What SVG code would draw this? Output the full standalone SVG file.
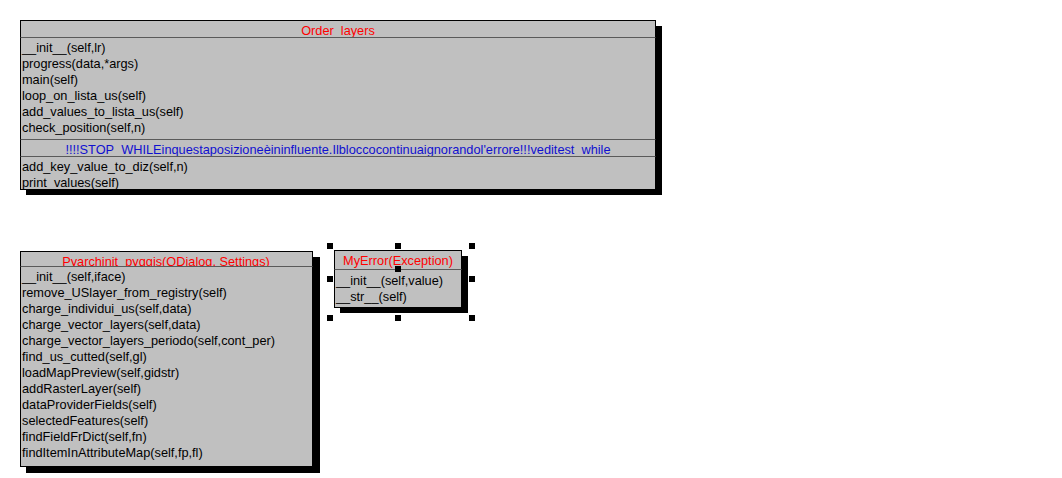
<svg xmlns="http://www.w3.org/2000/svg" width="1062" height="478" viewBox="0 0 1062 478">
<style>
.sh{fill:#000}
.box{fill:#c0c0c0;stroke:#000;stroke-width:1}
.sep{stroke:#5a5a5a;stroke-width:1.2}
.t{font-family:"Liberation Sans",Arial,sans-serif;font-size:12.75px;fill:#000}
.title{font-family:"Liberation Sans",Arial,sans-serif;font-size:12.75px;fill:#ff0000;text-anchor:middle}
.note{font-family:"Liberation Sans",Arial,sans-serif;font-size:12.75px;fill:#1010d0;text-anchor:middle}
.h{fill:#000}
</style>
<defs>
<clipPath id="c1"><rect x="20" y="20" width="635" height="17"/></clipPath>
<clipPath id="c1b"><rect x="20" y="140" width="635" height="16"/></clipPath>
<clipPath id="c2"><rect x="20" y="251" width="293" height="15"/></clipPath>
<clipPath id="c3"><rect x="334" y="250" width="128" height="19"/></clipPath>
</defs>
<g id="connectors"></g>
<g id="Order_layers">
<rect class="sh" x="26" y="26" width="636" height="169"/>
<rect class="box" x="20.5" y="20.5" width="635" height="169"/>
<text class="title" x="338" y="35" clip-path="url(#c1)">Order_layers</text>
<line class="sep" x1="20.5" y1="37.5" x2="655.5" y2="37.5"/>
<text class="t" x="22" y="51.5">__init__(self,lr)</text>
<text class="t" x="22" y="67.5">progress(data,*args)</text>
<text class="t" x="22" y="83.5">main(self)</text>
<text class="t" x="22" y="99.5">loop_on_lista_us(self)</text>
<text class="t" x="22" y="115.5">add_values_to_lista_us(self)</text>
<text class="t" x="22" y="131.5">check_position(self,n)</text>
<line class="sep" x1="20.5" y1="139.5" x2="655.5" y2="139.5"/>
<text class="note" x="338" y="153.5" clip-path="url(#c1b)">!!!!STOP_WHILEinquestaposizioneèininfluente.Ilbloccocontinuaignorandol'errore!!!veditest_while</text>
<line class="sep" x1="20.5" y1="156.5" x2="655.5" y2="156.5"/>
<text class="t" x="22" y="170.5">add_key_value_to_diz(self,n)</text>
<text class="t" x="22" y="186.5">print_values(self)</text>
</g>
<g id="Pyarchinit_pyqgis">
<rect class="sh" x="26" y="257" width="294" height="216"/>
<rect class="box" x="20.5" y="251.5" width="292" height="215"/>
<text class="title" x="166" y="266" clip-path="url(#c2)">Pyarchinit_pyqgis(QDialog, Settings)</text>
<line class="sep" x1="20.5" y1="266.5" x2="312.5" y2="266.5"/>
<text class="t" x="22" y="280.5">__init__(self,iface)</text>
<text class="t" x="22" y="296.5">remove_USlayer_from_registry(self)</text>
<text class="t" x="22" y="312.5">charge_individui_us(self,data)</text>
<text class="t" x="22" y="328.5">charge_vector_layers(self,data)</text>
<text class="t" x="22" y="344.5">charge_vector_layers_periodo(self,cont_per)</text>
<text class="t" x="22" y="360.5">find_us_cutted(self,gl)</text>
<text class="t" x="22" y="376.5">loadMapPreview(self,gidstr)</text>
<text class="t" x="22" y="392.5">addRasterLayer(self)</text>
<text class="t" x="22" y="408.5">dataProviderFields(self)</text>
<text class="t" x="22" y="424.5">selectedFeatures(self)</text>
<text class="t" x="22" y="440.5">findFieldFrDict(self,fn)</text>
<text class="t" x="22" y="456.5">findItemInAttributeMap(self,fp,fl)</text>
</g>
<g id="MyError">
<rect class="sh" x="340" y="256" width="128" height="57"/>
<rect class="box" x="334.5" y="250.5" width="127" height="57"/>
<text class="title" x="398" y="265" clip-path="url(#c3)">MyError(Exception)</text>
<line class="sep" x1="334.5" y1="269.5" x2="461.5" y2="269.5"/>
<text class="t" x="336" y="284.5">__init__(self,value)</text>
<text class="t" x="336" y="300.5">__str__(self)</text>
<rect class="h" x="327" y="243" width="6" height="6"/>
<rect class="h" x="395" y="243" width="6" height="6"/>
<rect class="h" x="469" y="243" width="6" height="6"/>
<rect class="h" x="327" y="276" width="6" height="6"/>
<rect class="h" x="469" y="276" width="6" height="6"/>
<rect class="h" x="327" y="315" width="6" height="6"/>
<rect class="h" x="395" y="315" width="6" height="6"/>
<rect class="h" x="469" y="315" width="6" height="6"/>
<rect class="h" x="395" y="266" width="6" height="6"/>
</g>
</svg>
